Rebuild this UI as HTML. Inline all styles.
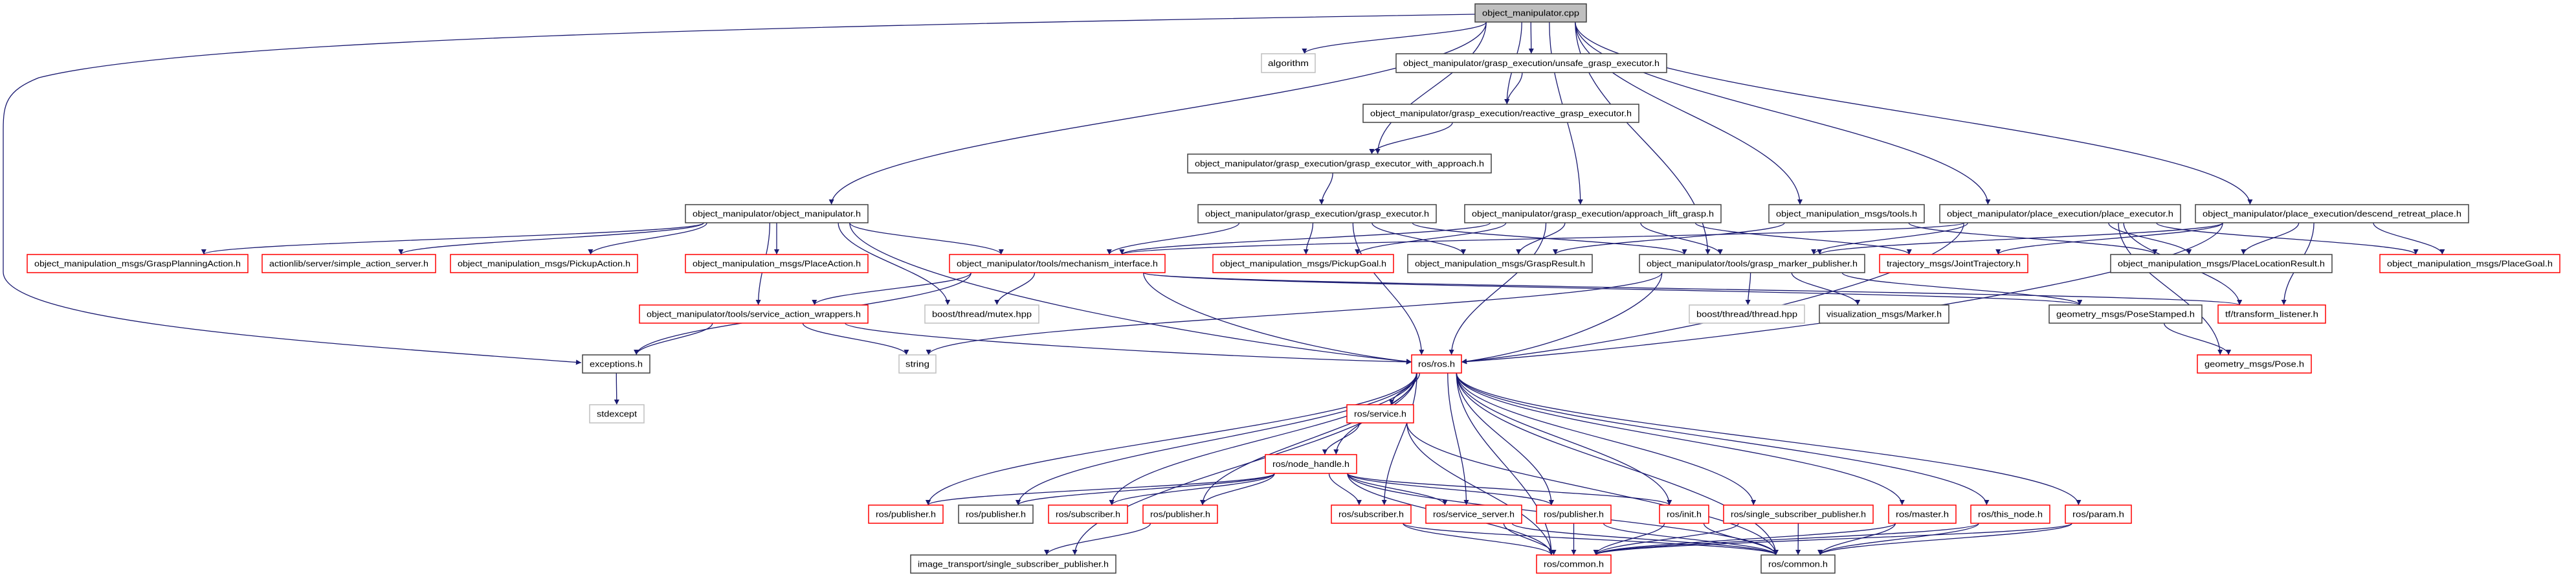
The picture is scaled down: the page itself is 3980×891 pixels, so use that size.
<!DOCTYPE html>
<html><head><meta charset="utf-8"><style>
html,body{margin:0;padding:0;background:#fff;}
svg{display:block;}
text{font-family:"Liberation Sans",sans-serif;font-size:13px;fill:#000;}
</style></head><body>
<svg id="g" width="3980" height="891" viewBox="0 0 3980 891" xmlns="http://www.w3.org/2000/svg">
<defs><marker id="a" viewBox="0 0 10 10" refX="10" refY="5" markerWidth="10" markerHeight="8" markerUnits="userSpaceOnUse" orient="auto"><path d="M0,0L10,5L0,10z" fill="#191970"/></marker></defs>
<g id="edges" fill="none" stroke="#191970" stroke-width="1.3"></g>
<g id="nodes">
<rect x="2279" y="6" width="172" height="28" fill="#bfbfbf" stroke="#404040" stroke-width="1.5"/><text x="2365" y="24.5" text-anchor="middle" textLength="150" lengthAdjust="spacingAndGlyphs">object_manipulator.cpp</text>
<rect x="1949" y="83" width="83" height="29" fill="#fff" stroke="#bfbfbf" stroke-width="1.5"/><text x="1990.5" y="102" text-anchor="middle" textLength="63" lengthAdjust="spacingAndGlyphs">algorithm</text>
<rect x="2157" y="83" width="418" height="29" fill="#fff" stroke="#404040" stroke-width="1.5"/><text x="2366" y="102" text-anchor="middle" textLength="396" lengthAdjust="spacingAndGlyphs">object_manipulator/grasp_execution/unsafe_grasp_executor.h</text>
<rect x="2106" y="161" width="426" height="28" fill="#fff" stroke="#404040" stroke-width="1.5"/><text x="2319" y="179.5" text-anchor="middle" textLength="404" lengthAdjust="spacingAndGlyphs">object_manipulator/grasp_execution/reactive_grasp_executor.h</text>
<rect x="1835" y="238" width="469" height="29" fill="#fff" stroke="#404040" stroke-width="1.5"/><text x="2069.5" y="257" text-anchor="middle" textLength="447" lengthAdjust="spacingAndGlyphs">object_manipulator/grasp_execution/grasp_executor_with_approach.h</text>
<rect x="1059" y="316" width="282" height="28" fill="#fff" stroke="#404040" stroke-width="1.5"/><text x="1200" y="334.5" text-anchor="middle" textLength="260" lengthAdjust="spacingAndGlyphs">object_manipulator/object_manipulator.h</text>
<rect x="1851" y="316" width="368" height="28" fill="#fff" stroke="#404040" stroke-width="1.5"/><text x="2035" y="334.5" text-anchor="middle" textLength="346" lengthAdjust="spacingAndGlyphs">object_manipulator/grasp_execution/grasp_executor.h</text>
<rect x="2263" y="316" width="396" height="28" fill="#fff" stroke="#404040" stroke-width="1.5"/><text x="2461" y="334.5" text-anchor="middle" textLength="374" lengthAdjust="spacingAndGlyphs">object_manipulator/grasp_execution/approach_lift_grasp.h</text>
<rect x="2733" y="316" width="240" height="28" fill="#fff" stroke="#404040" stroke-width="1.5"/><text x="2853" y="334.5" text-anchor="middle" textLength="218" lengthAdjust="spacingAndGlyphs">object_manipulation_msgs/tools.h</text>
<rect x="2997" y="316" width="372" height="28" fill="#fff" stroke="#404040" stroke-width="1.5"/><text x="3183" y="334.5" text-anchor="middle" textLength="350" lengthAdjust="spacingAndGlyphs">object_manipulator/place_execution/place_executor.h</text>
<rect x="3392" y="316" width="422" height="28" fill="#fff" stroke="#404040" stroke-width="1.5"/><text x="3603" y="334.5" text-anchor="middle" textLength="400" lengthAdjust="spacingAndGlyphs">object_manipulator/place_execution/descend_retreat_place.h</text>
<rect x="42" y="393" width="341" height="28" fill="#fff" stroke="#ff0000" stroke-width="1.5"/><text x="212.5" y="411.5" text-anchor="middle" textLength="319" lengthAdjust="spacingAndGlyphs">object_manipulation_msgs/GraspPlanningAction.h</text>
<rect x="405" y="393" width="268" height="28" fill="#fff" stroke="#ff0000" stroke-width="1.5"/><text x="539" y="411.5" text-anchor="middle" textLength="246" lengthAdjust="spacingAndGlyphs">actionlib/server/simple_action_server.h</text>
<rect x="696" y="393" width="289" height="28" fill="#fff" stroke="#ff0000" stroke-width="1.5"/><text x="840.5" y="411.5" text-anchor="middle" textLength="267" lengthAdjust="spacingAndGlyphs">object_manipulation_msgs/PickupAction.h</text>
<rect x="1059" y="393" width="282" height="28" fill="#fff" stroke="#ff0000" stroke-width="1.5"/><text x="1200" y="411.5" text-anchor="middle" textLength="260" lengthAdjust="spacingAndGlyphs">object_manipulation_msgs/PlaceAction.h</text>
<rect x="1467" y="393" width="333" height="28" fill="#fff" stroke="#ff0000" stroke-width="1.5"/><text x="1633.5" y="411.5" text-anchor="middle" textLength="311" lengthAdjust="spacingAndGlyphs">object_manipulator/tools/mechanism_interface.h</text>
<rect x="1874" y="393" width="279" height="28" fill="#fff" stroke="#ff0000" stroke-width="1.5"/><text x="2013.5" y="411.5" text-anchor="middle" textLength="257" lengthAdjust="spacingAndGlyphs">object_manipulation_msgs/PickupGoal.h</text>
<rect x="2175" y="393" width="285" height="28" fill="#fff" stroke="#404040" stroke-width="1.5"/><text x="2317.5" y="411.5" text-anchor="middle" textLength="263" lengthAdjust="spacingAndGlyphs">object_manipulation_msgs/GraspResult.h</text>
<rect x="2533" y="393" width="348" height="28" fill="#fff" stroke="#404040" stroke-width="1.5"/><text x="2707" y="411.5" text-anchor="middle" textLength="326" lengthAdjust="spacingAndGlyphs">object_manipulator/tools/grasp_marker_publisher.h</text>
<rect x="2904" y="393" width="229" height="28" fill="#fff" stroke="#ff0000" stroke-width="1.5"/><text x="3018.5" y="411.5" text-anchor="middle" textLength="207" lengthAdjust="spacingAndGlyphs">trajectory_msgs/JointTrajectory.h</text>
<rect x="3261" y="393" width="342" height="28" fill="#fff" stroke="#404040" stroke-width="1.5"/><text x="3432" y="411.5" text-anchor="middle" textLength="320" lengthAdjust="spacingAndGlyphs">object_manipulation_msgs/PlaceLocationResult.h</text>
<rect x="3677" y="393" width="278" height="28" fill="#fff" stroke="#ff0000" stroke-width="1.5"/><text x="3816" y="411.5" text-anchor="middle" textLength="256" lengthAdjust="spacingAndGlyphs">object_manipulation_msgs/PlaceGoal.h</text>
<rect x="988" y="471" width="353" height="28" fill="#fff" stroke="#ff0000" stroke-width="1.5"/><text x="1164.5" y="489.5" text-anchor="middle" textLength="331" lengthAdjust="spacingAndGlyphs">object_manipulator/tools/service_action_wrappers.h</text>
<rect x="1429" y="471" width="176" height="28" fill="#fff" stroke="#bfbfbf" stroke-width="1.5"/><text x="1517" y="489.5" text-anchor="middle" textLength="154" lengthAdjust="spacingAndGlyphs">boost/thread/mutex.hpp</text>
<rect x="2610" y="471" width="178" height="28" fill="#fff" stroke="#bfbfbf" stroke-width="1.5"/><text x="2699" y="489.5" text-anchor="middle" textLength="156" lengthAdjust="spacingAndGlyphs">boost/thread/thread.hpp</text>
<rect x="2811" y="471" width="200" height="28" fill="#fff" stroke="#404040" stroke-width="1.5"/><text x="2911" y="489.5" text-anchor="middle" textLength="178" lengthAdjust="spacingAndGlyphs">visualization_msgs/Marker.h</text>
<rect x="3166" y="471" width="236" height="28" fill="#fff" stroke="#404040" stroke-width="1.5"/><text x="3284" y="489.5" text-anchor="middle" textLength="214" lengthAdjust="spacingAndGlyphs">geometry_msgs/PoseStamped.h</text>
<rect x="3427" y="471" width="166" height="28" fill="#fff" stroke="#ff0000" stroke-width="1.5"/><text x="3510" y="489.5" text-anchor="middle" textLength="144" lengthAdjust="spacingAndGlyphs">tf/transform_listener.h</text>
<rect x="900" y="548" width="104" height="28" fill="#fff" stroke="#404040" stroke-width="1.5"/><text x="952" y="566.5" text-anchor="middle" textLength="82" lengthAdjust="spacingAndGlyphs">exceptions.h</text>
<rect x="1389" y="548" width="57" height="28" fill="#fff" stroke="#bfbfbf" stroke-width="1.5"/><text x="1417.5" y="566.5" text-anchor="middle" textLength="37" lengthAdjust="spacingAndGlyphs">string</text>
<rect x="2181" y="548" width="77" height="28" fill="#fff" stroke="#ff0000" stroke-width="1.5"/><text x="2219.5" y="566.5" text-anchor="middle" textLength="57" lengthAdjust="spacingAndGlyphs">ros/ros.h</text>
<rect x="3395" y="548" width="176" height="28" fill="#fff" stroke="#ff0000" stroke-width="1.5"/><text x="3483" y="566.5" text-anchor="middle" textLength="154" lengthAdjust="spacingAndGlyphs">geometry_msgs/Pose.h</text>
<rect x="911" y="625" width="84" height="28" fill="#fff" stroke="#bfbfbf" stroke-width="1.5"/><text x="953" y="643.5" text-anchor="middle" textLength="62" lengthAdjust="spacingAndGlyphs">stdexcept</text>
<rect x="2081" y="625" width="103" height="28" fill="#fff" stroke="#ff0000" stroke-width="1.5"/><text x="2132.5" y="643.5" text-anchor="middle" textLength="81" lengthAdjust="spacingAndGlyphs">ros/service.h</text>
<rect x="1955" y="702" width="141" height="29" fill="#fff" stroke="#ff0000" stroke-width="1.5"/><text x="2025.5" y="721" text-anchor="middle" textLength="119" lengthAdjust="spacingAndGlyphs">ros/node_handle.h</text>
<rect x="1342" y="780" width="115" height="28" fill="#fff" stroke="#ff0000" stroke-width="1.5"/><text x="1399.5" y="798.5" text-anchor="middle" textLength="93" lengthAdjust="spacingAndGlyphs">ros/publisher.h</text>
<rect x="1481" y="780" width="115" height="28" fill="#fff" stroke="#404040" stroke-width="1.5"/><text x="1538.5" y="798.5" text-anchor="middle" textLength="93" lengthAdjust="spacingAndGlyphs">ros/publisher.h</text>
<rect x="1620" y="780" width="122" height="28" fill="#fff" stroke="#ff0000" stroke-width="1.5"/><text x="1681" y="798.5" text-anchor="middle" textLength="100" lengthAdjust="spacingAndGlyphs">ros/subscriber.h</text>
<rect x="1766" y="780" width="115" height="28" fill="#fff" stroke="#ff0000" stroke-width="1.5"/><text x="1823.5" y="798.5" text-anchor="middle" textLength="93" lengthAdjust="spacingAndGlyphs">ros/publisher.h</text>
<rect x="2057" y="780" width="123" height="28" fill="#fff" stroke="#ff0000" stroke-width="1.5"/><text x="2118.5" y="798.5" text-anchor="middle" textLength="101" lengthAdjust="spacingAndGlyphs">ros/subscriber.h</text>
<rect x="2203" y="780" width="148" height="28" fill="#fff" stroke="#ff0000" stroke-width="1.5"/><text x="2277" y="798.5" text-anchor="middle" textLength="126" lengthAdjust="spacingAndGlyphs">ros/service_server.h</text>
<rect x="2374" y="780" width="115" height="28" fill="#fff" stroke="#ff0000" stroke-width="1.5"/><text x="2431.5" y="798.5" text-anchor="middle" textLength="93" lengthAdjust="spacingAndGlyphs">ros/publisher.h</text>
<rect x="2564" y="780" width="76" height="28" fill="#fff" stroke="#ff0000" stroke-width="1.5"/><text x="2602" y="798.5" text-anchor="middle" textLength="54" lengthAdjust="spacingAndGlyphs">ros/init.h</text>
<rect x="2663" y="780" width="231" height="28" fill="#fff" stroke="#ff0000" stroke-width="1.5"/><text x="2778.5" y="798.5" text-anchor="middle" textLength="209" lengthAdjust="spacingAndGlyphs">ros/single_subscriber_publisher.h</text>
<rect x="2918" y="780" width="104" height="28" fill="#fff" stroke="#ff0000" stroke-width="1.5"/><text x="2970" y="798.5" text-anchor="middle" textLength="82" lengthAdjust="spacingAndGlyphs">ros/master.h</text>
<rect x="3045" y="780" width="122" height="28" fill="#fff" stroke="#ff0000" stroke-width="1.5"/><text x="3106" y="798.5" text-anchor="middle" textLength="100" lengthAdjust="spacingAndGlyphs">ros/this_node.h</text>
<rect x="3191" y="780" width="102" height="28" fill="#fff" stroke="#ff0000" stroke-width="1.5"/><text x="3242" y="798.5" text-anchor="middle" textLength="80" lengthAdjust="spacingAndGlyphs">ros/param.h</text>
<rect x="1407" y="857" width="317" height="28" fill="#fff" stroke="#404040" stroke-width="1.5"/><text x="1565.5" y="875.5" text-anchor="middle" textLength="295" lengthAdjust="spacingAndGlyphs">image_transport/single_subscriber_publisher.h</text>
<rect x="2374" y="857" width="115" height="28" fill="#fff" stroke="#ff0000" stroke-width="1.5"/><text x="2431.5" y="875.5" text-anchor="middle" textLength="93" lengthAdjust="spacingAndGlyphs">ros/common.h</text>
<rect x="2721" y="857" width="114" height="28" fill="#fff" stroke="#404040" stroke-width="1.5"/><text x="2778" y="875.5" text-anchor="middle" textLength="92" lengthAdjust="spacingAndGlyphs">ros/common.h</text>
</g>
</svg>
<script>
var N={cpp:[2279,2451,6,34],alg:[1949,2032,83,112],uns:[2157,2575,83,112],rea:[2106,2532,161,189],wa:[1835,2304,238,267],
om:[1059,1341,316,344],ge:[1851,2219,316,344],al:[2263,2659,316,344],tl:[2733,2973,316,344],pe:[2997,3369,316,344],dr:[3392,3814,316,344],
gpa:[42,383,393,421],sas:[405,673,393,421],pa:[696,985,393,421],pla:[1059,1341,393,421],mi:[1467,1800,393,421],pg:[1874,2153,393,421],gr:[2175,2460,393,421],gmp:[2533,2881,393,421],jt:[2904,3133,393,421],plr:[3261,3603,393,421],plg:[3677,3955,393,421],
saw:[988,1341,471,499],mtx:[1429,1605,471,499],thr:[2610,2788,471,499],mk:[2811,3011,471,499],ps:[3166,3402,471,499],tf:[3427,3593,471,499],
ex:[900,1004,548,576],str:[1389,1446,548,576],ros:[2181,2258,548,576],pose:[3395,3571,548,576],sx:[911,995,625,653],sv:[2081,2184,625,653],nh:[1955,2096,702,731],
p1:[1342,1457,780,808],p2:[1481,1596,780,808],s1:[1620,1742,780,808],p3:[1766,1881,780,808],s2:[2057,2180,780,808],ss:[2203,2351,780,808],p4:[2374,2489,780,808],init:[2564,2640,780,808],ssp:[2663,2894,780,808],ms:[2918,3022,780,808],tn:[3045,3167,780,808],prm:[3191,3293,780,808],
it:[1407,1724,857,885],c1:[2374,2489,857,885],c2:[2721,2835,857,885]};
var E="cpp alg,cpp uns,cpp rea,cpp wa,cpp om,cpp al,cpp gmp,cpp tl,cpp pe,cpp dr,uns rea,rea wa,wa ge,om gpa,om sas,om pa,om pla,om mi,om saw,om mtx,om ros,ge mi,ge pg,ge gr,ge gmp,ge ros,al mi,al gr,al gmp,al jt,al ros,al pg,tl gr,tl plr,pe mi,pe gmp,pe plr,pe plg,pe tf,pe pose,pe ros,dr gmp,dr jt,dr plr,dr plg,dr tf,dr ros,mi saw,mi mtx,mi ros,mi tf,mi ps,mi ex,gmp thr,gmp mk,gmp ros,gmp str,gmp ps,saw ex,saw str,saw ros,ex sx,ps pose,ros sv,ros nh,ros p1,ros p2,ros s1,ros p3,ros it,ros s2,ros ss,ros p4,ros init,ros ssp,ros ms,ros tn,ros prm,ros c1,ros c2,sv nh,sv c1,sv c2,nh p1,nh p2,nh s1,nh p3,nh s2,nh ss,nh p4,nh init,nh c1,nh c2,p3 it,s2 c1,s2 c2,ss c1,ss c2,p4 c1,p4 c2,init c1,init c2,ssp c1,ssp c2,ms c1,ms c2,tn c1,tn c2,prm c1,prm c2".split(",");
var g=document.getElementById("edges"),s="";
E.forEach(function(e){var p=e.split(" "),a=N[p[0]],b=N[p[1]];
var acx=(a[0]+a[1])/2,bcx=(b[0]+b[1])/2,hw=(a[1]-a[0])/2*0.8,hb=(b[1]-b[0])/2*0.6;
var sx=acx+Math.max(-hw,Math.min(hw,(bcx-acx)*0.3)),tx=bcx+Math.max(-hb,Math.min(hb,(acx-bcx)*0.2));
var sy=a[3],ty=b[2],dy=ty-sy,d=dy*0.4;
var c2x=tx,c2y=ty-d;
if(p[1]=="ros" && Math.abs(bcx-acx)>2.5*dy){tx=acx>bcx?b[1]:b[0];ty=(b[2]+b[3])/2-3;c2x=tx+(acx-bcx)*0.3;c2y=ty-dy*0.15;}
s+='<path d="M'+sx+','+sy+' C'+sx+','+(sy+d)+' '+c2x+','+c2y+' '+tx+','+ty+'" marker-end="url(#a)"/>';});
s+='<path d="M2279,22 C1200,40 300,60 60,120 C10,140 5,160 5,200 L5,420 C5,500 500,530 898,560" marker-end="url(#a)"/>';
g.innerHTML=s;
</script>
</body></html>
